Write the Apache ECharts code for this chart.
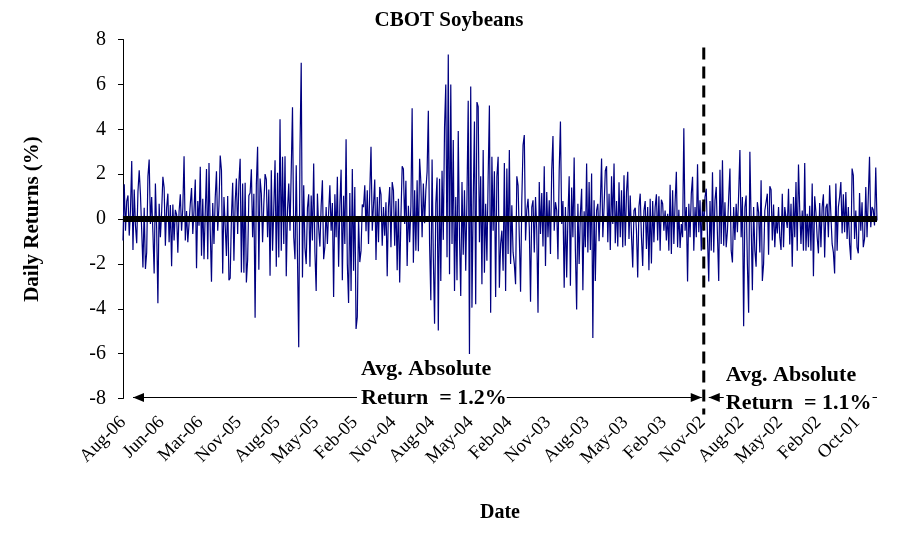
<!DOCTYPE html>
<html><head><meta charset="utf-8">
<script src="https://cdn.jsdelivr.net/npm/echarts@6/dist/echarts.min.js"></script>
<style>html,body{margin:0;padding:0;background:#fff}#c{width:898px;height:535px}</style>
</head><body><div id="c"></div>
<script>
const tickLabels = ['Aug-06','Jun-06','Mar-06','Nov-05','Aug-05','May-05','Feb-05','Nov-04','Aug-04','May-04','Feb-04','Nov-03','Aug-03','May-03','Feb-03','Nov-02','Aug-02','May-02','Feb-02','Oct-01'];
const LABEL_EVERY = 31;

// Daily returns (%) from Aug-06 back to the break (dashed line)
const returnsBefore = [
-0.96,1.55,-0.52,0.8,1.05,-0.74,0.4,2.58,-1.38,1.31,-0.3,-1.08,1.22,2.17,1.1,-0.5,-2.16,0.5,-2.23,-1.49,1.9,2.65,-0.22,0.98,-0.6,-2.43,1.58,-0.4,-3.76,0.68,-0.81,0.3,1.88,1.4,-1.19,0.5,1.13,-1.04,0.62,-2.1,0.65,-0.96,0.41,0.2,-1.5,0.34,1.1,-0.52,0.5,2.8,-0.96,0.35,-1.04,-0.2,0.68,1.38,-0.67,0.4,1.76,-2.19,0.8,-0.3,2.33,-1.64,0.9,-1.79,0.3,2.23,-1.79,2.5,-0.5,-2.8,0.71,-1.11,0.95,2.13,-0.52,0.6,2.83,2.17,-2.43,0.98,-0.3,-1.65,1.02,-2.73,-2.64,0.08,1.62,-1.86,0.75,1.8,-0.67,1.65,2.68,-2.38,1.58,
-2.39,1.61,-2.83,-1.83,1.05,1.16,2.22,-0.81,1.13,-4.4,1.55,3.22,-2.26,1.8,1.13,-1.04,0.68,2.0,1.76,-0.81,1.31,-2.53,2.17,-1.41,0.5,2.62,-2.13,2.06,-1.71,4.45,-1.41,2.77,-1.11,2.8,-2.55,0.4,1.58,-0.52,2.2,4.98,-0.81,-1.79,2.4,-1.71,-5.72,3.07,6.96,-2.61,1.5,-1.29,-2.01,0.5,1.1,-2.13,1.05,-0.96,2.47,-1.49,-3.21,1.13,-0.4,-1.23,0.59,1.73,-1.79,-1.23,0.53,-1.11,0.3,1.5,-0.52,0.71,-3.48,1.1,-0.81,1.88,-2.13,0.6,2.2,-2.73,1.04,-1.11,3.55,-2.01,-3.74,1.16,-3.21,2.23,-2.31,1.43,-4.9,-4.37,0.08,-1.92,-1.41,0.65,0.53,1.5,-0.55,1.28,-1.11,1.22,3.22,-0.52,
-0.52,1.76,-1.83,0.98,-1.04,1.43,1.1,-1.19,0.53,-0.74,0.75,-2.55,0.53,1.43,-1.26,1.65,1.28,-1.19,0.8,-2.28,0.9,-2.83,0.08,2.35,2.23,-0.22,1.7,-2.09,0.59,-1.04,0.56,4.94,-1.95,1.28,-1.41,1.73,-1.44,2.68,1.65,-0.81,1.58,-0.19,1.28,2.1,4.82,-1.11,-3.62,2.65,-1.71,-4.67,0.68,1.85,-4.97,1.79,-2.76,2.15,-0.93,4.09,5.99,-1.71,7.33,-2.46,5.99,-1.11,3.52,-3.21,0.98,-2.73,3.92,-0.81,-3.43,1.65,-1.59,1.28,-2.31,0.98,5.27,-6.02,5.91,-3.95,0.75,4.34,-3.8,5.21,5.01,-1.04,1.9,-2.91,3.07,-2.39,0.68,-1.86,1.88,5.06,-4.18,2.77,-0.52,2.13,-3.48,1.9,2.77,-3.06,-1.11,
-0.52,-2.31,2.5,-3.21,2.25,-1.56,3.07,-2.01,0.61,-1.49,-2.01,-2.91,1.9,1.5,-0.81,-3.24,0.83,3.3,3.74,-0.96,0.41,0.9,-0.37,-3.69,0.53,0.83,-1.49,0.98,-0.5,-4.18,1.65,-0.67,1.16,-1.23,2.35,-2.09,1.2,-0.81,0.83,-1.56,2.17,3.7,-0.52,0.75,0.4,-1.79,2.17,4.34,-0.22,0.8,-3.06,0.53,-2.61,0.08,1.9,-2.98,1.4,-0.81,2.74,-1.41,-4.03,0.68,-2.01,0.23,1.35,-3.18,0.35,-1.26,2.47,-1.49,1.65,-1.38,2.03,-5.3,0.83,-2.76,0.38,0.68,-0.99,0.68,2.7,-0.81,0.53,2.15,2.35,-1.04,1.13,-1.38,1.9,-0.22,2.47,-1.08,0.8,-1.23,1.64,-0.81,1.28,-1.26,1.95,-1.19,1.2,2.1,
-0.89,1.05,-0.74,-2.16,0.38,0.5,-0.52,-2.61,0.56,1.13,-0.81,-2.09,0.38,0.8,-1.34,0.53,-2.28,0.9,-1.98,0.8,-1.04,0.53,1.1,-0.96,1.01,-1.41,0.86,0.68,-0.52,0.38,-0.96,0.23,-1.41,1.53,-1.56,1.28,-1.11,0.75,2.1,-1.26,0.41,-1.29,-0.22,-0.81,4.04,-0.52,0.53,-2.79,0.68,-0.81,1.13,1.88,-1.41,0.53,-0.81,2.44,-0.59,0.83,-1.41,0.75
];

// Daily returns (%) after the break, back to Oct-01
const returnsAfter = [
-0.52,0.98,1.35,-0.81,-2.79,0.8,-1.41,2.08,-1.49,0.83,1.43,-0.74,-2.76,2.2,-1.11,2.62,-1.19,0.75,-1.26,-0.52,0.98,2.25,-1.41,-1.94,0.53,-0.93,0.68,-0.59,1.13,3.07,-0.81,0.98,-4.78,0.53,1.05,-2.01,-4.18,3.0,3.07,-3.18,
0.53,-1.41,-2.13,0.75,0.3,-1.49,1.73,-2.76,-2.01,0.38,0.75,1.13,-1.59,1.46,1.31,-0.96,0.65,-1.26,0.08,-0.64,0.53,-0.81,-1.38,1.13,-1.26,0.53,0.53,-0.4,1.35,-1.14,0.68,-2.13,0.98,-0.81,1.65,-1.41,2.43,0.41,-1.11,0.38,-1.41,2.5,-1.41,0.23,-1.26,0.59,-1.41,1.58,-2.55,1.01,0.3,-0.81,-1.53,0.71,-1.26,0.53,1.1,-1.71,0.5,0.68,-0.81,1.5,1.43,-1.11,-1.49,-2.43,1.58,-1.41,0.53,0.98,1.65,-0.64,1.1,-0.59,1.2,-0.89,0.53,-1.11,-1.83,2.25,1.95,-0.89,0.38,-1.26,-1.53,1.16,-0.52,0.75,-1.26,-0.89,1.43,-0.81,0.98,2.77,-0.37,0.53,0.41,-0.29,2.3,-0.07
];

const annotationBefore = ['Avg. Absolute', 'Return  = 1.2%'];
const annotationAfter = ['Avg. Absolute', 'Return  = 1.1%'];

const returns = returnsBefore.concat(returnsAfter);
const categories = returns.map((_, i) => String(i));
const splitIndex = returnsBefore.length;

const serif = '"Liberation Serif", "Times New Roman", serif';
const chart = echarts.init(document.getElementById('c'), null, {renderer: 'canvas'});
chart.setOption({
  animation: false,
  backgroundColor: '#fff',
  title: {
    text: 'CBOT Soybeans', left: 'center', top: 5,
    textStyle: {fontFamily: serif, fontWeight: 'bold', fontSize: 21, color: '#000'}
  },
  grid: {left: 123, right: 21, top: 39.5, bottom: 136.5, containLabel: false},
  xAxis: {
    type: 'category', data: categories, boundaryGap: false,
    axisLine: {show: false, onZero: false}, axisTick: {show: false},
    axisLabel: {
      interval: LABEL_EVERY - 1, rotate: 45, margin: 21,
      fontFamily: serif, fontSize: 18.5, color: '#000',
      formatter: (v, idx) => (idx % LABEL_EVERY === 0 ? (tickLabels[idx / LABEL_EVERY] || '') : '')
    },
    name: 'Date', nameLocation: 'middle', nameGap: 104,
    nameTextStyle: {fontFamily: serif, fontWeight: 'bold', fontSize: 20, color: '#000'}
  },
  yAxis: {
    type: 'value', min: -8, max: 8, interval: 2,
    axisLine: {show: true, lineStyle: {color: '#000', width: 1}},
    axisTick: {show: true, length: 5, lineStyle: {color: '#000'}},
    splitLine: {show: false},
    axisLabel: {margin: 17, fontFamily: serif, fontSize: 20, color: '#000'},
    name: 'Daily Returns (%)', nameLocation: 'middle', nameGap: 80, nameRotate: 90,
    nameTextStyle: {fontFamily: serif, fontWeight: 'bold', fontSize: 21, color: '#000'}
  },
  series: [{
    type: 'line', data: returns, showSymbol: false, symbol: 'none', sampling: null,
    lineStyle: {color: '#000080', width: 1.2},
    markLine: {
      silent: true, symbol: 'none', label: {show: false},
      lineStyle: {color: '#000', width: 6, type: 'solid'},
      data: [{yAxis: 0}]
    }
  }]
});

// Annotations placed through the chart's own scales
const px = (i, v) => chart.convertToPixel({gridIndex: 0}, [i, v]);
const pStart = px(0, -8);
const pSplit = px(splitIndex, -8);
const pEnd = px(returns.length - 1, -8);
const pTop = px(splitIndex, 8);
const ay = pStart[1] - 1;
const txtFont = 'bold 22px ' + serif;
const arrowHead = (tipX, dir) => ({
  type: 'polygon', z: 20,
  shape: {points: [[tipX, ay], [tipX + dir * 11, ay - 4.5], [tipX + dir * 11, ay + 4.5]]},
  style: {fill: '#000'}
});
chart.setOption({
  graphic: [
    {type: 'line', z: 10, shape: {x1: pSplit[0], y1: pTop[1] + 8, x2: pSplit[0], y2: pStart[1] + 16},
     style: {stroke: '#000', lineWidth: 3, lineDash: [12, 7]}},
    {type: 'line', z: 10, shape: {x1: pStart[0] + 10, y1: ay, x2: pSplit[0] - 2, y2: ay},
     style: {stroke: '#000', lineWidth: 1.2}},
    arrowHead(pStart[0] + 10, 1),
    arrowHead(pSplit[0] - 2, -1),
    {type: 'line', z: 10, shape: {x1: pSplit[0] + 5, y1: ay, x2: pEnd[0], y2: ay},
     style: {stroke: '#000', lineWidth: 1.2}},
    arrowHead(pSplit[0] + 5, 1),
    {type: 'text', z: 30, x: 361, y: ay - 28,
     style: {text: annotationBefore[0], font: txtFont, fill: '#000', verticalAlign: 'middle'}},
    {type: 'text', z: 30, x: 357, y: ay + 1,
     style: {text: annotationBefore[1], font: txtFont, fill: '#000', verticalAlign: 'middle', backgroundColor: '#fff', padding: [0, 0, 0, 4]}},
    {type: 'text', z: 30, x: pSplit[0] + 22, y: ay - 22,
     style: {text: annotationAfter[0], font: txtFont, fill: '#000', verticalAlign: 'middle'}},
    {type: 'text', z: 30, x: pSplit[0] + 20, y: ay + 6,
     style: {text: annotationAfter[1], font: txtFont, fill: '#000', verticalAlign: 'middle', backgroundColor: '#fff', padding: [0, 1, 0, 2]}}
  ]
});
</script></body></html>
